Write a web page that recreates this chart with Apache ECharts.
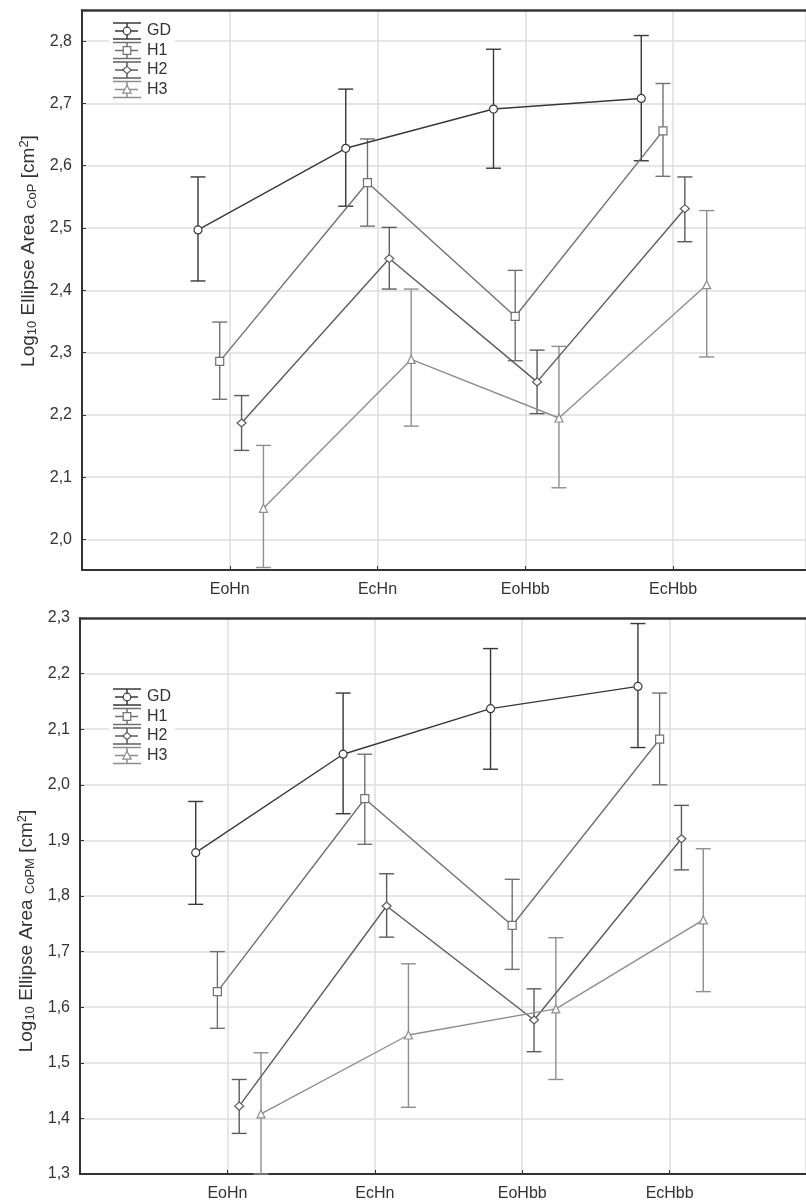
<!DOCTYPE html>
<html>
<head>
<meta charset="utf-8">
<script src="https://cdn.jsdelivr.net/npm/echarts@6/dist/echarts.min.js"></script>
<style>
  html, body { margin: 0; padding: 0; background: #ffffff; }
  #chart { width: 806px; height: 1204px; }
</style>
</head>
<body>
<div id="chart"></div>
<script>
// Conditions on the horizontal axis
const categories = ['EoHn', 'EcHn', 'EoHbb', 'EcHbb'];
// Groups
const groups = ['GD', 'H1', 'H2', 'H3'];

// Log10 ellipse area, CoP: [mean, lower, upper] per condition
const copGD = [[2.497, 2.415, 2.582], [2.628, 2.535, 2.723], [2.691, 2.596, 2.787], [2.708, 2.608, 2.809]];
const copH1 = [[2.286, 2.225, 2.349], [2.573, 2.503, 2.643], [2.358, 2.287, 2.432], [2.656, 2.583, 2.732]];
const copH2 = [[2.187, 2.143, 2.231], [2.451, 2.402, 2.501], [2.253, 2.202, 2.304], [2.531, 2.478, 2.582]];
const copH3 = [[2.050, 1.955, 2.151], [2.289, 2.182, 2.402], [2.195, 2.083, 2.310], [2.409, 2.293, 2.528]];

// Log10 ellipse area, CoPM: [mean, lower, upper] per condition
const copmGD = [[1.878, 1.785, 1.970], [2.055, 1.948, 2.165], [2.137, 2.028, 2.245], [2.177, 2.067, 2.290]];
const copmH1 = [[1.628, 1.562, 1.700], [1.975, 1.893, 2.055], [1.747, 1.668, 1.830], [2.082, 2.000, 2.165]];
const copmH2 = [[1.422, 1.373, 1.470], [1.782, 1.726, 1.840], [1.577, 1.520, 1.633], [1.903, 1.847, 1.963]];
const copmH3 = [[1.408, 1.300, 1.518], [1.550, 1.420, 1.678], [1.597, 1.470, 1.725], [1.757, 1.628, 1.885]];

// Axis ranges (the horizontal range runs past the last condition and is cut at the right edge)
const copRange = [1.951, 2.85];
const copmRange = [1.3, 2.3];
const copXRange = [0, 4.9];
const copmXRange = [0, 4.925];

// Per-group styling
const groupStyle = {
  GD: { color: '#383838', symbol: 'circle', offset: -0.215 },
  H1: { color: '#717171', symbol: 'rect', offset: -0.068 },
  H2: { color: '#5c5c5c', symbol: 'diamond', offset: 0.08 },
  H3: { color: '#8e8e8e', symbol: 'triangle', offset: 0.228 }
};

const FONT = 'Arial, "Liberation Sans", sans-serif';
const AXIS_DARK = '#333333';
const GRID_LINE = '#dedede';

function fmtTick(v) {
  const r = Math.round(v * 10);
  if (Math.abs(v * 10 - r) > 1e-6) return '';
  return (r / 10).toFixed(1).replace('.', ',');
}

function errorBarRenderer(color) {
  return function (params, api) {
    const x = api.value(0);
    const lo = api.coord([x, api.value(1)]);
    const hi = api.coord([x, api.value(2)]);
    const hw = 7.5;
    const st = { stroke: color, lineWidth: 1.4 };
    return {
      type: 'group',
      children: [
        { type: 'line', shape: { x1: hi[0], y1: hi[1], x2: lo[0], y2: lo[1] }, style: st },
        { type: 'line', shape: { x1: hi[0] - hw, y1: hi[1], x2: hi[0] + hw, y2: hi[1] }, style: st },
        { type: 'line', shape: { x1: lo[0] - hw, y1: lo[1], x2: lo[0] + hw, y2: lo[1] }, style: st }
      ]
    };
  };
}

function panelSeries(gridIdx, dataByGroup) {
  const out = [];
  groups.forEach(function (g) {
    const s = groupStyle[g];
    const rows = dataByGroup[g];
    const meanPts = rows.map(function (r, i) { return [i + 1 + s.offset, r[0]]; });
    const barPts = rows.map(function (r, i) { return [i + 1 + s.offset, r[1], r[2]]; });
    out.push({
      type: 'custom',
      name: g + ' err',
      xAxisIndex: gridIdx,
      yAxisIndex: gridIdx,
      data: barPts,
      encode: { x: 0, y: [1, 2] },
      renderItem: errorBarRenderer(s.color),
      silent: true,
      z: 2
    });
    out.push({
      type: 'line',
      name: g,
      xAxisIndex: gridIdx,
      yAxisIndex: gridIdx,
      data: meanPts,
      symbol: s.symbol,
      symbolSize: s.symbol === 'diamond' ? [9, 8] : 8,
      showAllSymbol: true,
      lineStyle: { color: s.color, width: 1.4 },
      itemStyle: { color: '#ffffff', borderColor: s.color, borderWidth: 1.2 },
      emphasis: { disabled: true },
      silent: true,
      animation: false,
      z: 3
    });
  });
  return out;
}

// Legend block: error-bar glyph with the group's marker, then the group name
function legendGraphic(top) {
  const x0 = 113, x1 = 141, cx = 127, step = 19.5;
  const items = [{
    type: 'rect', z: 10,
    shape: { x: 109, y: top - 10, width: 66, height: step * 3 + 20 },
    style: { fill: '#ffffff' }
  }];
  groups.forEach(function (g, i) {
    const s = groupStyle[g];
    const y = top + i * step;
    const st = { stroke: s.color, lineWidth: 1.5 };
    items.push({ type: 'line', z: 11, shape: { x1: x0, y1: y - 8, x2: x1, y2: y - 8 }, style: st });
    items.push({ type: 'line', z: 11, shape: { x1: x0, y1: y + 8, x2: x1, y2: y + 8 }, style: st });
    items.push({ type: 'line', z: 11, shape: { x1: cx, y1: y - 8, x2: cx, y2: y + 8 }, style: st });
    items.push({ type: 'line', z: 11, shape: { x1: x0 + 2, y1: y, x2: x1 - 3, y2: y }, style: st });
    const ms = { fill: '#ffffff', stroke: s.color, lineWidth: 1.2 };
    if (s.symbol === 'circle') {
      items.push({ type: 'circle', z: 12, shape: { cx: cx, cy: y, r: 3.8 }, style: ms });
    } else if (s.symbol === 'rect') {
      items.push({ type: 'rect', z: 12, shape: { x: cx - 3.8, y: y - 3.8, width: 7.6, height: 7.6 }, style: ms });
    } else if (s.symbol === 'diamond') {
      items.push({ type: 'polygon', z: 12, shape: { points: [[cx, y - 3.6], [cx + 4.2, y], [cx, y + 3.6], [cx - 4.2, y]] }, style: ms });
    } else {
      items.push({ type: 'polygon', z: 12, shape: { points: [[cx, y - 4.2], [cx + 4.2, y + 3.6], [cx - 4.2, y + 3.6]] }, style: ms });
    }
    items.push({
      type: 'text', z: 12, x: 147, y: y,
      style: { text: g, fill: AXIS_DARK, font: '16px ' + FONT, verticalAlign: 'middle' }
    });
  });
  return items;
}

function xAxisCfg(gridIdx, range) {
  return {
    type: 'value', gridIndex: gridIdx, min: range[0], max: range[1], interval: 1,
    axisLine: { show: true, onZero: false, lineStyle: { color: AXIS_DARK, width: 2 } },
    axisTick: { show: true, inside: true, length: 4, lineStyle: { color: AXIS_DARK } },
    axisLabel: {
      color: AXIS_DARK, fontSize: 16, fontFamily: FONT, margin: 12,
      showMaxLabel: false,
      formatter: function (v) {
        const i = Math.round(v);
        return Math.abs(v - i) < 1e-6 ? (categories[i - 1] || '') : '';
      }
    },
    splitLine: { show: true, lineStyle: { color: GRID_LINE, width: 1.5 } }
  };
}

// Frame line along the top of a panel
function topFrameCfg(gridIdx, range) {
  return {
    type: 'value', gridIndex: gridIdx, position: 'top', min: range[0], max: range[1],
    axisLine: { show: true, onZero: false, lineStyle: { color: '#3a3a3a', width: 2.5 } },
    axisTick: { show: false }, axisLabel: { show: false }, splitLine: { show: false }
  };
}

function yAxisCfg(gridIdx, range, nameRich, namePadding, nameGap) {
  return {
    type: 'value', gridIndex: gridIdx, min: range[0], max: range[1],
    minInterval: 0.1, maxInterval: 0.1, splitNumber: 10,
    axisLine: { show: true, onZero: false, lineStyle: { color: AXIS_DARK, width: 2 } },
    axisTick: { show: true, inside: true, length: 4, lineStyle: { color: AXIS_DARK } },
    axisLabel: { color: AXIS_DARK, fontSize: 16, fontFamily: FONT, margin: 10, formatter: fmtTick },
    splitLine: { show: true, lineStyle: { color: GRID_LINE, width: 1.5 } },
    name: nameRich,
    nameLocation: 'middle',
    nameGap: nameGap,
    nameRotate: 90,
    nameTextStyle: {
      color: AXIS_DARK, fontFamily: FONT, fontSize: 19, padding: namePadding,
      rich: {
        a: { fontSize: 19, fontFamily: FONT, color: AXIS_DARK },
        b: { fontSize: 13, fontFamily: FONT, color: AXIS_DARK, verticalAlign: 'bottom', padding: [8, 0, 0, 0] },
        c: { fontSize: 13, fontFamily: FONT, color: AXIS_DARK, verticalAlign: 'top', padding: [0, 0, 8, 0] }
      }
    }
  };
}

const chart = echarts.init(document.getElementById('chart'), null, { renderer: 'canvas' });

const option = {
  animation: false,
  backgroundColor: '#ffffff',
  grid: [
    { left: 82, right: 0, top: 10, bottom: 634, show: false },
    { left: 80, right: 0, top: 618, bottom: 30, show: false }
  ],
  xAxis: [xAxisCfg(0, copXRange), xAxisCfg(1, copmXRange), topFrameCfg(0, copXRange), topFrameCfg(1, copmXRange)],
  yAxis: [
    yAxisCfg(0, copRange, '{a|Log}{b|10}{a| Ellipse Area }{b|CoP}{a| [cm}{c|2}{a|]}', [0, 0, 0, 78], 42),
    yAxisCfg(1, copmRange, '{a|Log}{b|10}{a| Ellipse Area }{b|CoPM}{a| [cm}{c|2}{a|]}', [0, 70, 0, 0], 40)
  ],
  series: panelSeries(0, { GD: copGD, H1: copH1, H2: copH2, H3: copH3 })
    .concat(panelSeries(1, { GD: copmGD, H1: copmH1, H2: copmH2, H3: copmH3 })),
  graphic: legendGraphic(31).concat(legendGraphic(697))
};

chart.setOption(option);
</script>
</body>
</html>
